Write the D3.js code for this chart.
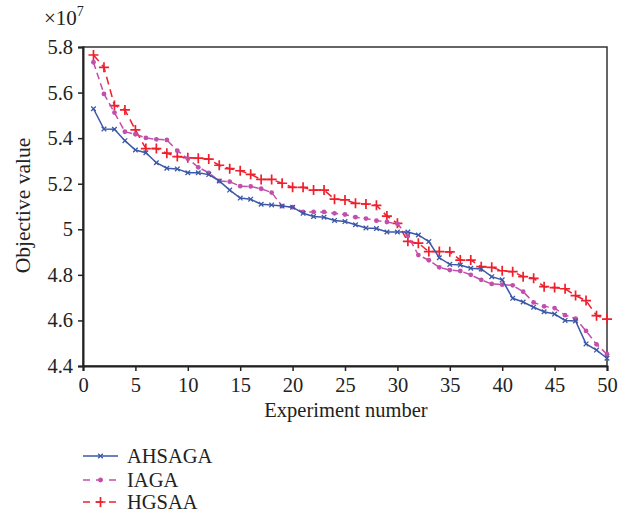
<!DOCTYPE html>
<html>
<head>
<meta charset="utf-8">
<script src="https://cdn.jsdelivr.net/npm/d3@7"></script>
<style>
  html, body { margin: 0; padding: 0; background: #fff; }
  svg text { font-family: "Liberation Serif", "DejaVu Serif", serif; fill: #222; }
</style>
</head>
<body>
<svg id="chart" width="630" height="516"></svg>
<script>
// Experiment numbers 1..50
const experiments = d3.range(1, 51);

// Objective values (×10^7) per experiment
const ahsaga = [5.529, 5.440, 5.439, 5.389, 5.348, 5.336, 5.292, 5.268, 5.265, 5.248,
  5.248, 5.240, 5.212, 5.172, 5.137, 5.132, 5.110, 5.107, 5.102, 5.097,
  5.070, 5.056, 5.053, 5.039, 5.034, 5.020, 5.006, 5.003, 4.988, 4.988,
  4.988, 4.975, 4.946, 4.875, 4.846, 4.843, 4.829, 4.826, 4.792, 4.778,
  4.697, 4.681, 4.658, 4.638, 4.628, 4.600, 4.598, 4.497, 4.470, 4.434];

const iaga = [5.733, 5.594, 5.512, 5.428, 5.417, 5.401, 5.395, 5.392, 5.345, 5.310,
  5.272, 5.248, 5.212, 5.209, 5.189, 5.188, 5.178, 5.161, 5.102, 5.097,
  5.076, 5.076, 5.076, 5.070, 5.065, 5.053, 5.047, 5.038, 5.032, 5.024,
  4.971, 4.887, 4.864, 4.833, 4.821, 4.817, 4.800, 4.778, 4.760, 4.757,
  4.754, 4.726, 4.679, 4.662, 4.654, 4.623, 4.608, 4.554, 4.495, 4.452];

const hgsaa = [5.765, 5.711, 5.543, 5.524, 5.436, 5.354, 5.354, 5.334, 5.319, 5.314,
  5.312, 5.308, 5.281, 5.266, 5.257, 5.241, 5.219, 5.219, 5.202, 5.184,
  5.184, 5.172, 5.172, 5.132, 5.129, 5.114, 5.111, 5.105, 5.058, 5.026,
  4.947, 4.939, 4.902, 4.902, 4.901, 4.865, 4.865, 4.836, 4.833, 4.818,
  4.814, 4.792, 4.785, 4.748, 4.744, 4.739, 4.709, 4.687, 4.621, 4.606];

const seriesNames = ["AHSAGA", "IAGA", "HGSAA"];
const xTicks = [0, 5, 10, 15, 20, 25, 30, 35, 40, 45, 50];
const yTicks = [4.4, 4.6, 4.8, 5.0, 5.2, 5.4, 5.6, 5.8];
const yTickLabels = ["4.4", "4.6", "4.8", "5", "5.2", "5.4", "5.6", "5.8"];

const svg = d3.select("#chart");
const plot = { left: 83, right: 607, top: 47, bottom: 366 };

const x = d3.scaleLinear().domain([0, 50]).range([plot.left, plot.right]);
const y = d3.scaleLinear().domain([4.4, 5.8]).range([plot.bottom, plot.top]);

// Frame around the plotting area
svg.append("rect")
  .attr("x", plot.left).attr("y", plot.top)
  .attr("width", plot.right - plot.left).attr("height", plot.bottom - plot.top)
  .attr("fill", "none").attr("stroke", "#333").attr("stroke-width", 1.5);

// Axes
const xAxis = svg.append("g")
  .attr("transform", `translate(0,${plot.bottom})`)
  .call(d3.axisBottom(x).tickValues(xTicks).tickSize(5).tickPadding(4).tickFormat(d3.format("d")));
const yAxis = svg.append("g")
  .attr("transform", `translate(${plot.left},0)`)
  .call(d3.axisLeft(y).tickValues(yTicks).tickSize(5).tickPadding(5)
    .tickFormat((d, i) => yTickLabels[i]));

[xAxis, yAxis].forEach(g => {
  g.select(".domain").attr("stroke", "#222").attr("stroke-width", 2);
  g.selectAll(".tick line").attr("stroke", "#222").attr("stroke-width", 1.5);
  g.selectAll(".tick text")
    .attr("font-family", "Liberation Serif, serif")
    .attr("font-size", 20.5).attr("fill", "#222");
});
xAxis.selectAll(".tick text").attr("dy", "0.82em");

// Axis titles
svg.append("text")
  .attr("x", (plot.left + plot.right) / 2 + 1).attr("y", 417)
  .attr("text-anchor", "middle").attr("font-size", 20.5)
  .text("Experiment number");

svg.append("text")
  .attr("transform", `translate(30,${(plot.top + plot.bottom) / 2 - 1}) rotate(-90)`)
  .attr("text-anchor", "middle").attr("font-size", 21.5)
  .text("Objective value");

// Exponent of the value axis
const expo = svg.append("text").attr("x", 44).attr("y", 25).attr("font-size", 21);
expo.append("tspan").text("×10");
expo.append("tspan").attr("dy", -9).attr("font-size", 14).text("7");

// Series styling
const styles = {
  AHSAGA: { color: "#3b58a8", dash: null, marker: "x" },
  IAGA: { color: "#c24fab", dash: "7,4", marker: "dot" },
  HGSAA: { color: "#f01f2c", dash: "8,5", marker: "plus" }
};
const values = { AHSAGA: ahsaga, IAGA: iaga, HGSAA: hgsaa };

const line = d3.line().x(d => x(d[0])).y(d => y(d[1]));

function drawMarker(g, type, cx, cy, color) {
  if (type === "x") {
    g.append("path")
      .attr("d", `M${cx - 2.3},${cy - 2.3}L${cx + 2.3},${cy + 2.3}M${cx - 2.3},${cy + 2.3}L${cx + 2.3},${cy - 2.3}`)
      .attr("stroke", color).attr("stroke-width", 1.3).attr("fill", "none");
  } else if (type === "dot") {
    g.append("circle").attr("cx", cx).attr("cy", cy).attr("r", 2.4).attr("fill", color);
  } else {
    g.append("path")
      .attr("d", `M${cx - 5},${cy}L${cx + 5},${cy}M${cx},${cy - 5}L${cx},${cy + 5}`)
      .attr("stroke", color).attr("stroke-width", 1.7).attr("fill", "none");
  }
}

// Draw in back-to-front order
["HGSAA", "IAGA", "AHSAGA"].forEach(name => {
  const st = styles[name];
  const pts = experiments.map((e, i) => [e, values[name][i]]);
  const g = svg.append("g");
  g.append("path").datum(pts)
    .attr("d", line).attr("fill", "none")
    .attr("stroke", st.color).attr("stroke-width", 1.5)
    .attr("stroke-dasharray", st.dash);
  pts.forEach(p => drawMarker(g, st.marker, x(p[0]), y(p[1]), st.color));
});

// Legend
const legendY = [456, 480, 502];
seriesNames.forEach((name, i) => {
  const st = styles[name];
  const g = svg.append("g");
  g.append("line")
    .attr("x1", 83).attr("x2", 118).attr("y1", legendY[i]).attr("y2", legendY[i])
    .attr("stroke", st.color).attr("stroke-width", 1.5)
    .attr("stroke-dasharray", st.dash ? "7,6" : null);
  drawMarker(g, st.marker, 100.5, legendY[i], st.color);
  g.append("text").attr("x", 127).attr("y", legendY[i] + 7)
    .attr("font-size", 20.5).text(name);
});
</script>
</body>
</html>
